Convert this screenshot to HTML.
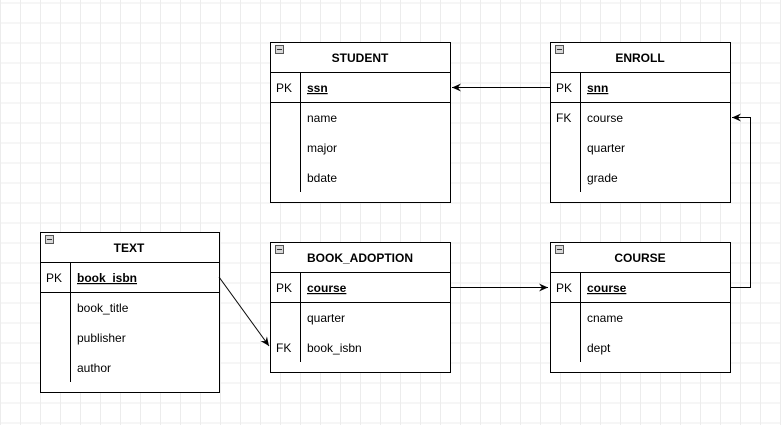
<!DOCTYPE html>
<html><head><meta charset="utf-8"><style>
html,body{margin:0;padding:0;background:#fff;}
svg{display:block;}
text{font-family:"Liberation Sans",Arial,sans-serif;font-size:12px;fill:#000;}
.t{font-weight:bold;font-size:12px;}
</style></head><body>
<svg width="781" height="425" viewBox="0 0 781 425" xmlns="http://www.w3.org/2000/svg">
<defs>
<pattern id="g" width="20" height="20" patternUnits="userSpaceOnUse" x="0" y="2.5">
<path d="M0.5 0V20M0 0.5H20" stroke="#ececec" stroke-width="1" fill="none"/>
</pattern>
<marker id="a" markerWidth="10" markerHeight="10" refX="9" refY="5" orient="auto" markerUnits="userSpaceOnUse">
<path d="M0 1 L9 5 L0 9 L3 5Z" fill="#000"/>
</marker>
</defs>
<rect width="781" height="425" fill="url(#g)"/>
<g fill="#fff" stroke="#000" stroke-width="1">
<rect x="270.5" y="42.5" width="180" height="160"/>
<rect x="550.5" y="42.5" width="180" height="160"/>
<rect x="40.5" y="232.5" width="179" height="160"/>
<rect x="270.5" y="242.5" width="180" height="130"/>
<rect x="550.5" y="242.5" width="180" height="130"/>
</g>
<g stroke="#000" stroke-width="1" fill="none">
<path d="M270 72.5H450M270 102.5H450M300.5 72V192"/>
<path d="M550 72.5H730M550 102.5H730M580.5 72V192"/>
<path d="M40 262.5H219M40 292.5H219M70.5 262V382"/>
<path d="M270 272.5H450M270 302.5H450M300.5 272V362"/>
<path d="M550 272.5H730M550 302.5H730M580.5 272V362"/>
</g>
<g fill="#d8d8d8" stroke="#555" stroke-width="1">
<rect x="275.5" y="45.5" width="8" height="8"/>
<rect x="555.5" y="45.5" width="8" height="8"/>
<rect x="45.5" y="235.5" width="8" height="8"/>
<rect x="275.5" y="245.5" width="8" height="8"/>
<rect x="555.5" y="245.5" width="8" height="8"/>
</g>
<g stroke="#333" stroke-width="1">
<path d="M277 49.5H282M557 49.5H562M47 239.5H52M277 249.5H282M557 249.5H562"/>
</g>
<g stroke="#000" stroke-width="1" fill="none">
<path d="M550 87.5H452" marker-end="url(#a)"/>
<path d="M730 287.5H750.5V117.5H732" marker-end="url(#a)"/>
<path d="M450 287.5H548" marker-end="url(#a)"/>
<path d="M219 277L269 346" marker-end="url(#a)"/>
</g>
<text class="t" x="360" y="62" text-anchor="middle">STUDENT</text>
<text x="276" y="92">PK</text><text class="t" x="307" y="92" text-decoration="underline">ssn</text>
<text x="307" y="122">name</text><text x="307" y="152">major</text><text x="307" y="182">bdate</text>

<text class="t" x="640" y="62" text-anchor="middle">ENROLL</text>
<text x="556" y="92">PK</text><text class="t" x="587" y="92" text-decoration="underline">snn</text>
<text x="556" y="122">FK</text><text x="587" y="122">course</text>
<text x="587" y="152">quarter</text><text x="587" y="182">grade</text>

<text class="t" x="129" y="252" text-anchor="middle">TEXT</text>
<text x="46" y="282">PK</text><text class="t" x="77" y="282" text-decoration="underline">book_isbn</text>
<text x="77" y="312">book_title</text><text x="77" y="342">publisher</text><text x="77" y="372">author</text>

<text class="t" x="360" y="262" text-anchor="middle">BOOK_ADOPTION</text>
<text x="276" y="292">PK</text><text class="t" x="307" y="292" text-decoration="underline">course</text>
<text x="307" y="322">quarter</text>
<text x="276" y="352">FK</text><text x="307" y="352">book_isbn</text>

<text class="t" x="640" y="262" text-anchor="middle">COURSE</text>
<text x="556" y="292">PK</text><text class="t" x="587" y="292" text-decoration="underline">course</text>
<text x="587" y="322">cname</text><text x="587" y="352">dept</text>
</svg>
</body></html>
